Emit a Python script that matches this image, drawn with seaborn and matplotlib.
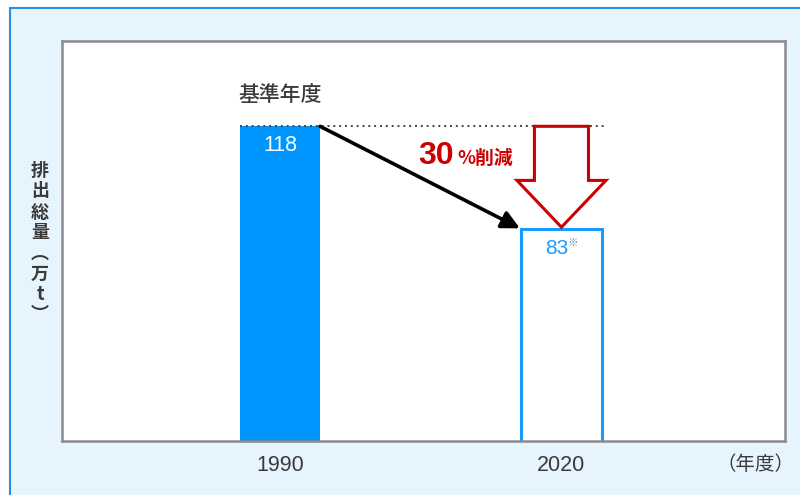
import matplotlib
matplotlib.use("Agg")
import matplotlib.pyplot as plt
from matplotlib.patches import Rectangle, Polygon
import seaborn as sns
import pandas as pd

years = ["1990", "2020"]
values = [118, 83]
value_labels = ["118", "83"]
ylabel_chars = ["排", "出", "総", "量", "︵", "万", "t", "︶"]
base_label = "基準年度"
reduction_num = "30"
reduction_txt = "%削減"
unit_label = "（年度）"

sns.set_theme(style="white")
plt.rcParams['font.family'] = ['Noto Sans CJK JP', 'DejaVu Sans']

BLUE = "#0096FF"
BLUE_EDGE = "#1A9BFF"
RED = "#CC0000"
TXT = "#3A3A3A"

fig = plt.figure(figsize=(8, 4.95), dpi=100, facecolor="white")
# panel background
bg = Rectangle((10/800, -0.1), 1.2, 1 - 8/495 + 0.1,
               transform=fig.transFigure, facecolor="#E6F4FE",
               edgecolor="#2B8DDB", linewidth=1.5, zorder=-10)
fig.patches.append(bg)
ax = fig.add_axes([62/800, 54/495, 723/800, 400/495])
ax.set_zorder(1)
ax.set_facecolor("white")

df = pd.DataFrame({"year": years, "value": values})
W = 0.285
sns.barplot(data=df, x="year", y="value", ax=ax, width=W, color=BLUE,
            saturation=1, edgecolor="none")
bars = ax.patches
bars[0].set_facecolor(BLUE)
bars[1].set_facecolor("white")
bars[1].set_edgecolor(BLUE_EDGE)
bars[1].set_linewidth(2.2)

ax.set_xlim(-0.774, 1.794)
ax.set_ylim(11, 147)
ax.set_xlabel("")
ax.set_ylabel("")
ax.set_yticks([])
ax.tick_params(axis="x", length=0, pad=10, labelsize=15.5, labelcolor=TXT)
for t in ax.get_xticklabels():
    t.set_fontfamily(['Liberation Sans', 'DejaVu Sans'])
for s in ax.spines.values():
    s.set_color("#8A8A8A")
    s.set_linewidth(1.8)

# value labels
ax.text(0, values[0] - 6.5, value_labels[0], ha="center", va="center",
        color="white", fontsize=15.5, family=['Liberation Sans'])
ax.text(0.982, values[1] - 6.5, value_labels[1], ha="center", va="center",
        color=BLUE_EDGE, fontsize=15, family=['Liberation Sans'])
ax.text(1.04, values[1] - 4.8, "※", ha="center", va="center",
        color="#5A8FC8", fontsize=7.5)

# base year label
ax.text(0, values[0] + 10.5, base_label, ha="center", va="center",
        color=TXT, fontsize=15, fontweight="medium")

# dotted reference line
ax.plot([-W/2, 1 + W/2 + 0.01], [values[0], values[0]], color="#444444",
        lw=1.4, linestyle=(0, (1, 2)), zorder=3)

# black arrow
ax.annotate("", xy=(1 - W/2 - 0.005, values[1] + 0.3), xytext=(W/2, values[0]),
            arrowprops=dict(arrowstyle="-|>,head_length=0.9,head_width=0.45",
                            color="black", lw=2.6, shrinkA=0, shrinkB=0),
            zorder=4)

# red hollow arrow
sw, hw = 0.096, 0.158
top, base, tip = values[0], 99.6, values[1] + 0.7
poly = Polygon([(1 - sw, top), (1 + sw, top), (1 + sw, base), (1 + hw, base),
                (1, tip), (1 - hw, base), (1 - sw, base)], closed=True,
               facecolor="white", edgecolor=RED, lw=2.2, zorder=5)
ax.add_patch(poly)

# reduction text
ax.text(0.618, 105.2, reduction_num, ha="right", va="baseline", color=RED,
        fontsize=23, fontweight="bold", family=['Liberation Sans'])
ax.text(0.629, 105.2, reduction_txt, ha="left", va="baseline", color=RED,
        fontsize=13.5, fontweight="bold")

# unit label
ax.text((755 - 62) / 723, -23 / 400, unit_label, transform=ax.transAxes,
        ha="center", va="center", color=TXT, fontsize=14)

# vertical y label
ys = [171, 191, 212, 233, 253, 274, 294, 314]
for ch, yy in zip(ylabel_chars, ys):
    fig.text(40/800, 1 - yy/495, ch, ha="center", va="center", color=TXT,
             fontsize=13, fontweight="bold")

fig.savefig("out.png", dpi=100, facecolor=fig.get_facecolor())
